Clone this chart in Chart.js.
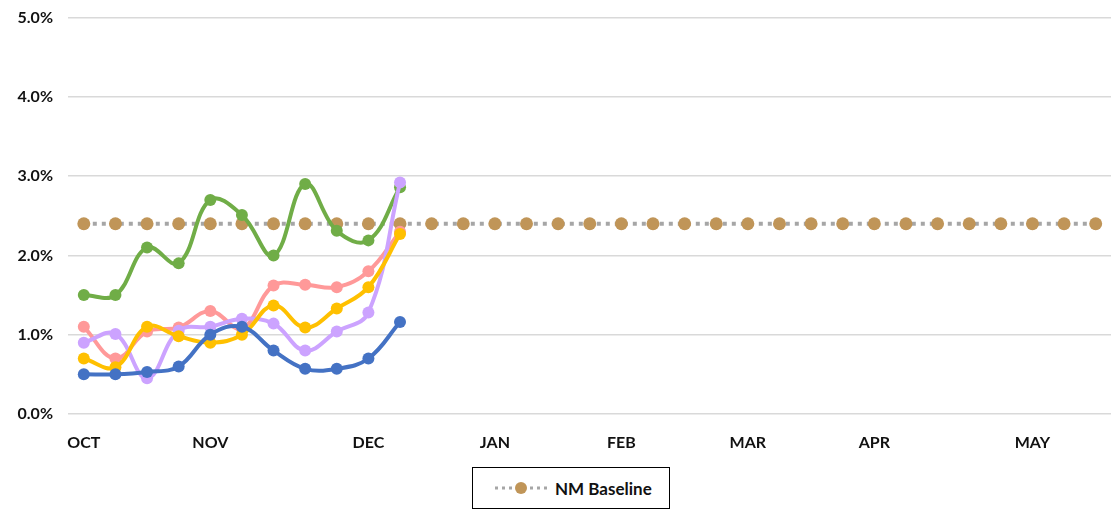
<!DOCTYPE html>
<html lang="en">
<head>
    <meta charset="UTF-8">
    <title>NM Baseline</title>
    <script src="https://cdn.jsdelivr.net/npm/chart.js"></script>
    <style>
        body {
            margin: 0;
            width: 1111px;
            height: 519px;
            overflow: hidden;
            background: #fff;
            font-family: Lato, 'Open Sans', sans-serif;
            position: relative;
        }
        .chart-wrap {
            position: absolute;
            left: 0;
            top: -7px;
            width: 1118px;
            height: 467px;
        }
        .legend-box {
            position: absolute;
            left: 472px;
            top: 467px;
            width: 198px;
            height: 42px;
            border: 1.5px solid #000;
            display: flex;
            align-items: center;
            box-sizing: border-box;
            padding-left: 22px;
            font-weight: bold;
            font-size: 17px;
            color: #111;
        }
        .legend-box canvas { margin-right: 8px; }
    </style>
</head>
<body>
    <div class="chart-wrap"><canvas id="chart"></canvas></div>
    <div class="legend-box"><canvas id="legendMark" width="52" height="16"></canvas><span>NM Baseline</span></div>
    <script>
        // 33 weekly slots, month label on the first week of each month
        const weeks = ['OCT', '', '', '', 'NOV', '', '', '', '', 'DEC', '', '', '', 'JAN', '', '', '',
            'FEB', '', '', '', 'MAR', '', '', '', 'APR', '', '', '', '', 'MAY', '', ''];

        const blueSeries   = [0.50, 0.50, 0.53, 0.60, 1.00, 1.10, 0.80, 0.57, 0.57, 0.70, 1.16];
        const greenSeries  = [1.50, 1.50, 2.10, 1.90, 2.70, 2.51, 2.00, 2.90, 2.31, 2.19, 2.86];
        const pinkSeries   = [1.10, 0.70, 1.04, 1.09, 1.30, 1.08, 1.62, 1.63, 1.60, 1.80, 2.30];
        const yellowSeries = [0.70, 0.59, 1.10, 0.98, 0.90, 1.00, 1.37, 1.09, 1.33, 1.60, 2.27];
        const purpleSeries = [0.90, 1.01, 0.45, 1.05, 1.10, 1.20, 1.14, 0.80, 1.04, 1.28, 2.92];
        const baseline = weeks.map(() => 2.4);

        function series(label, data, color) {
            return {
                label: label,
                data: data,
                borderColor: color,
                backgroundColor: color,
                borderWidth: 4,
                pointRadius: 6,
                pointHoverRadius: 6,
                pointBorderWidth: 0,
                tension: 0.4
            };
        }

        new Chart(document.getElementById('chart'), {
            type: 'line',
            data: {
                labels: weeks,
                datasets: [
                    {
                        label: 'NM Baseline',
                        data: baseline,
                        borderColor: '#A6A6A6',
                        backgroundColor: '#C09558',
                        borderWidth: 4,
                        borderDash: [4, 5],
                        pointRadius: 6.5,
                        pointBorderWidth: 0,
                        tension: 0,
                        order: 10
                    },
                    series('Series 1', blueSeries, '#4472C4'),
                    series('Series 2', yellowSeries, '#FFC000'),
                    series('Series 3', purpleSeries, '#CCA3FF'),
                    series('Series 4', pinkSeries, '#FF9999'),
                    series('Series 5', greenSeries, '#70AD47')
                ]
            },
            options: {
                responsive: true,
                maintainAspectRatio: false,
                animation: false,
                layout: { padding: { top: 9, right: 0, bottom: 0, left: 0 } },
                scales: {
                    x: {
                        offset: true,
                        grid: { display: false },
                        border: { display: false },
                        ticks: {
                            autoSkip: false,
                            maxRotation: 0,
                            padding: 11,
                            color: '#111',
                            font: { size: 16, weight: 'bold', family: 'Lato' }
                        },
                        afterFit: (scale) => { scale.height = 46; }
                    },
                    y: {
                        min: 0,
                        max: 5,
                        ticks: {
                            stepSize: 1,
                            padding: 15,
                            color: '#111',
                            font: { size: 16, weight: 'bold', family: 'Lato' },
                            callback: (v) => v.toFixed(1) + '%'
                        },
                        grid: { color: '#D9D9D9', lineWidth: 1.5, drawTicks: false },
                        border: { display: false },
                        afterFit: (scale) => { scale.width = 68; }
                    }
                },
                plugins: {
                    legend: { display: false },
                    tooltip: { enabled: false }
                }
            }
        });

        // small legend marker: dotted gray line with a tan dot
        const lc = document.getElementById('legendMark').getContext('2d');
        lc.strokeStyle = '#A6A6A6';
        lc.lineWidth = 3;
        lc.setLineDash([3, 4]);
        lc.beginPath();
        lc.moveTo(0, 8);
        lc.lineTo(52, 8);
        lc.stroke();
        lc.fillStyle = '#C09558';
        lc.beginPath();
        lc.arc(26, 8, 6, 0, Math.PI * 2);
        lc.fill();
    </script>
</body>
</html>
